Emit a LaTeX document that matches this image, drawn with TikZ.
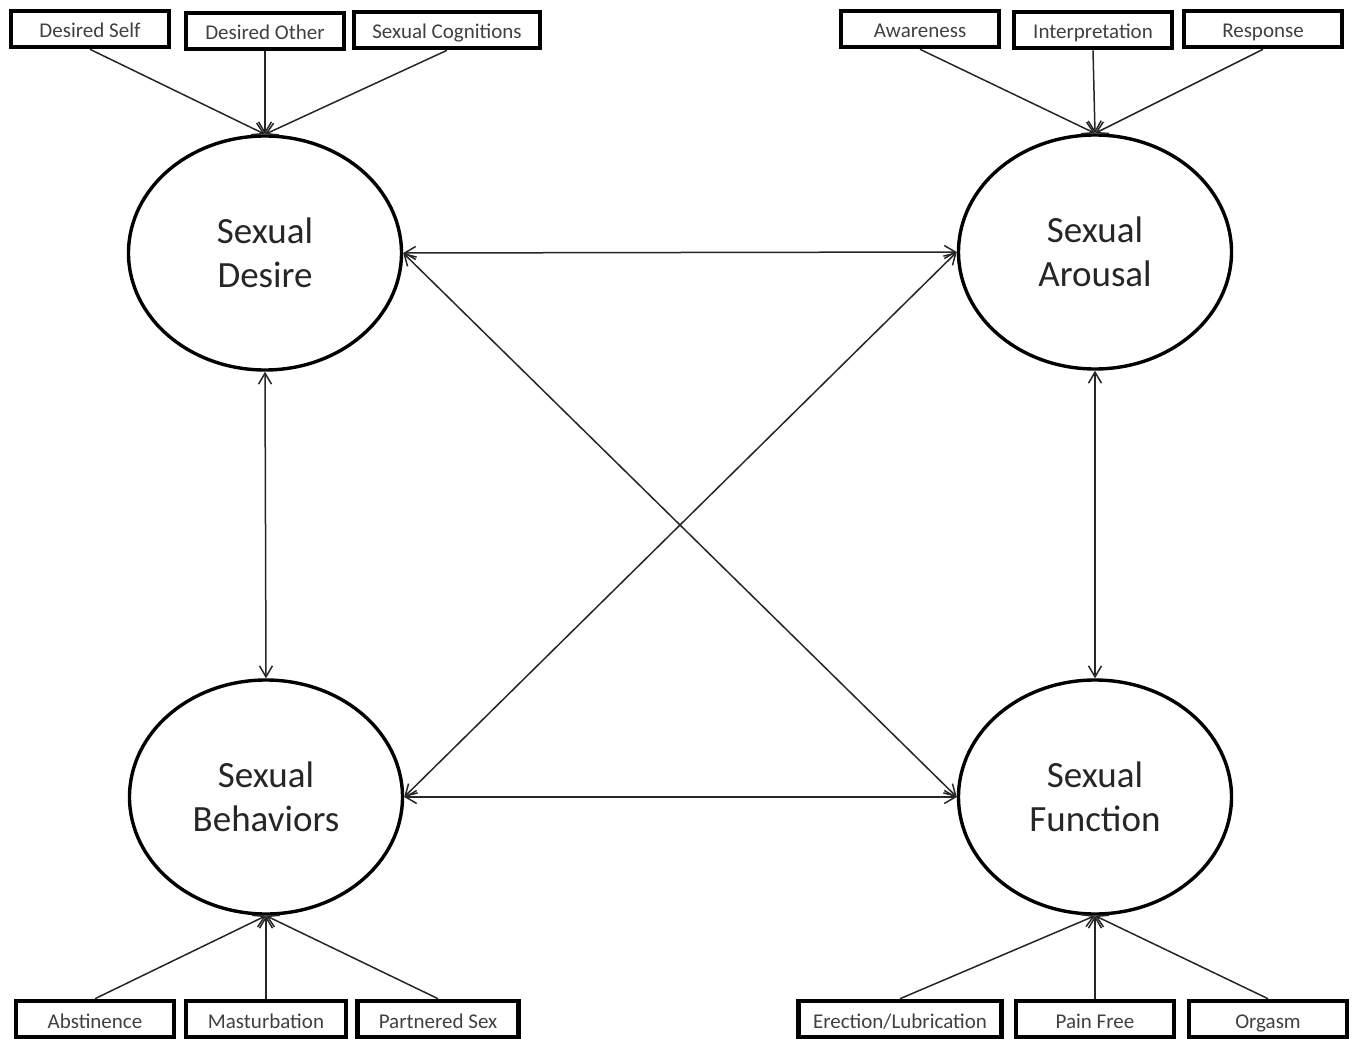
\documentclass[tikz,border=0pt]{standalone}
\usepackage{fontspec}
\setmainfont{Carlito}
\usetikzlibrary{shapes.geometric,arrows.meta}
\begin{document}
\begin{tikzpicture}[x=1pt,y=-1pt,
  itembox/.style={draw=black,line width=4.6pt,minimum height=36pt,inner sep=0pt,
    text height=18pt,text depth=0pt,
    font=\fontsize{21}{24}\selectfont,text=black!75},
  construct/.style={ellipse,draw=black,line width=3.4pt,minimum width=273pt,
    minimum height=234pt,inner sep=0pt,align=center,
    font=\fontsize{37}{44}\selectfont,text=black!85},
  conn/.style={draw=black!85,line width=1.5pt,-{Straight Barb[length=11pt,width=13pt]}},
  both/.style={draw=black!85,line width=1.5pt,{Straight Barb[length=11pt,width=13pt]}-{Straight Barb[length=11pt,width=13pt]}}]
\useasboundingbox (0,0) rectangle (1359,1038);

% constructs
\node[construct] (des) at (265,253) {Sexual\\Desire};
\node[construct] (aro) at (1095,252) {Sexual\\Arousal};
\node[construct] (beh) at (266,797) {Sexual\\Behaviors};
\node[construct] (fun) at (1095,797) {Sexual\\Function};

% top-left items
\node[itembox,minimum width=158pt] (ds) at (90,29) {Desired Self};
\node[itembox,minimum width=158pt] (do) at (265,31) {Desired Other};
\node[itembox,minimum width=186pt] (sc) at (447,30) {Sexual Cognitions};
% top-right items
\node[itembox,minimum width=158pt] (aw) at (920,29) {Awareness};
\node[itembox,minimum width=158pt] (in) at (1093,30) {Interpretation};
\node[itembox,minimum width=158pt] (re) at (1263,29) {Response};
% bottom-left items
\node[itembox,minimum width=158pt] (ab) at (95,1019) {Abstinence};
\node[itembox,minimum width=160pt] (ma) at (266,1019) {Masturbation};
\node[itembox,minimum width=161pt] (ps) at (438,1019) {Partnered Sex};
% bottom-right items
\node[itembox,minimum width=203pt] (er) at (900,1019) {Erection/Lubrication};
\node[itembox,minimum width=158pt] (pf) at (1095,1019) {Pain Free};
\node[itembox,minimum width=158pt] (or) at (1268,1019) {Orgasm};

% indicator arrows
\draw[conn] (ds.south) -- (des.north);
\draw[conn] (do.south) -- (des.north);
\draw[conn] (sc.south) -- (des.north);
\draw[conn] (aw.south) -- (aro.north);
\draw[conn] (in.south) -- (aro.north);
\draw[conn] (re.south) -- (aro.north);
\draw[conn] (ab.north) -- (beh.south);
\draw[conn] (ma.north) -- (beh.south);
\draw[conn] (ps.north) -- (beh.south);
\draw[conn] (er.north) -- (fun.south);
\draw[conn] (pf.north) -- (fun.south);
\draw[conn] (or.north) -- (fun.south);

% correlations
\draw[both] (des.east) -- (aro.west);
\draw[both] (beh.east) -- (fun.west);
\draw[both] (des.south) -- (beh.north);
\draw[both] (aro.south) -- (fun.north);
\draw[both] (des.east) -- (fun.west);
\draw[both] (aro.west) -- (beh.east);
\end{tikzpicture}
\end{document}
